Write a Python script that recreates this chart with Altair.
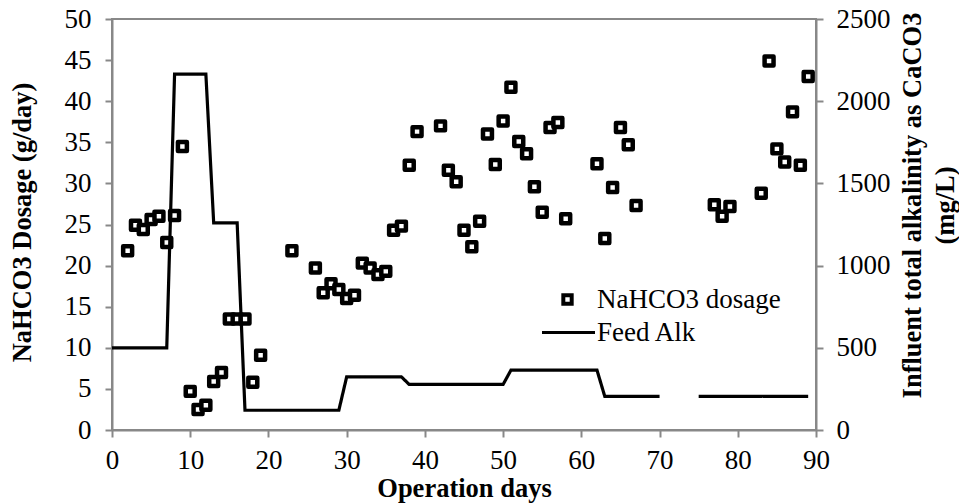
import altair as alt
import pandas as pd

# NaHCO3 dosage (g/day) by operation day
dose_days = [2, 3, 4, 5, 6, 7, 8, 9, 10, 11, 12, 13, 14, 15, 16, 17, 18, 19,
             23, 26, 27, 28, 29, 30, 31, 32, 33, 34, 35, 36, 37, 38, 39,
             42, 43, 44, 45, 46, 47, 48, 49, 50, 51, 52, 53, 54, 55, 56, 57, 58,
             62, 63, 64, 65, 66, 67, 77, 78, 79, 83, 84, 85, 86, 87, 88, 89]
dose_vals = [21.8, 24.9, 24.4, 25.6, 26.0, 22.8, 26.1, 34.5, 4.7, 2.5, 3.0, 5.9, 7.0, 13.5, 13.5, 13.5, 5.8, 9.1,
             21.8, 19.7, 16.7, 17.8, 17.1, 16.0, 16.4, 20.3, 19.7, 18.9, 19.3, 24.3, 24.8, 32.2, 36.3,
             37.0, 31.6, 30.2, 24.3, 22.3, 25.4, 36.0, 32.3, 37.6, 41.7, 35.1, 33.6, 29.6, 26.5, 36.8, 37.4, 25.7,
             32.4, 23.3, 29.5, 36.8, 34.7, 27.3, 27.4, 26.0, 27.2, 28.8, 44.9, 34.2, 32.6, 38.7, 32.2, 43.0]

# Feed alkalinity (mg/L as CaCO3)
alk_days = [0, 7, 8, 12, 13, 16, 17, 29, 30, 37, 38, 50, 51, 62, 63, 70, 75, 89]
alk_vals = [500, 500, 2165, 2165, 1260, 1260, 120, 120, 323, 323, 277, 277, 364, 364, 204, 204, 204, 204]
alk_segs = [1] * 16 + [2] * 2

dose_df = pd.DataFrame({"day": dose_days, "dose": dose_vals, "s": "NaHCO3 dosage"})
alk_df = pd.DataFrame({"day": alk_days, "alk": alk_vals, "seg": alk_segs, "l": "Feed Alk"})

FONT = "Liberation Serif"
GRAY = "#888888"
FS = 27
TFS = 26.5

x_enc = alt.X("day:Q", scale=alt.Scale(domain=[0, 90], nice=False),
              axis=alt.Axis(values=list(range(0, 91, 10)), title="Operation days",
                            titleFont=FONT, titleFontSize=TFS, titleFontWeight="bold",
                            titleColor="black", titlePadding=2, labelFlush=False,
                            labelFont=FONT, labelFontSize=FS, labelColor="black",
                            labelPadding=10, domainColor=GRAY, tickColor=GRAY,
                            tickSize=7, grid=False, domainWidth=2, tickWidth=2))

points = alt.Chart(dose_df).mark_point(
    filled=False, fill="white", strokeWidth=4.5, size=80, shape="square",
    strokeJoin="round", opacity=1
).encode(
    x=x_enc,
    y=alt.Y("dose:Q", scale=alt.Scale(domain=[0, 50], nice=False),
            axis=alt.Axis(values=list(range(0, 51, 5)), title="NaHCO3 Dosage (g/day)",
                          titleFont=FONT, titleFontSize=TFS, titleFontWeight="bold",
                          titleColor="black", titleX=-76, titleY=203, labelFlush=False,
                          labelFont=FONT, labelFontSize=FS, labelColor="black",
                          labelPadding=14, domainColor=GRAY, tickColor=GRAY,
                          tickSize=7, grid=False, domainWidth=2, tickWidth=2)),
    color=alt.Color("s:N", scale=alt.Scale(domain=["NaHCO3 dosage"], range=["black"]),
                    legend=alt.Legend(orient="none", legendX=442, legendY=267, title=None,
                                      padding=0, labelFont=FONT, labelFontSize=FS,
                                      labelColor="black", labelOffset=16, labelLimit=400,
                                      symbolType="square", symbolOpacity=1,
                                      symbolStrokeColor="black", symbolFillColor="white",
                                      symbolStrokeWidth=4, symbolSize=70)),
)

line = alt.Chart(alk_df).mark_line(color="black", strokeWidth=3.2, strokeJoin="miter").encode(
    x=alt.X("day:Q"),
    y=alt.Y("alk:Q", scale=alt.Scale(domain=[0, 2500], nice=False),
            axis=alt.Axis(values=list(range(0, 2501, 500)), orient="right", format="d",
                          title=["Influent total alkalinity as CaCO3", "(mg/L)"],
                          titleFont=FONT, titleFontSize=TFS, titleFontWeight="bold",
                          titleColor="black", titleAngle=270, titleX=110, titleY=186,
                          titleAlign="center", titleLineHeight=33, labelFlush=False,
                          labelFont=FONT, labelFontSize=FS, labelColor="black",
                          labelPadding=13, domainColor=GRAY, tickColor=GRAY,
                          tickSize=7, grid=False, domainWidth=2, tickWidth=2)),
    detail="seg:N",
    strokeDash=alt.StrokeDash("l:N", scale=alt.Scale(domain=["Feed Alk"], range=[[1, 0]]),
                              legend=alt.Legend(orient="none", legendX=428, legendY=285, title=None,
                                                padding=0, labelFont=FONT, labelFontSize=FS,
                                                labelColor="black", labelOffset=0, labelLimit=400,
                                                symbolType="stroke", symbolStrokeColor="black",
                                                symbolStrokeWidth=3.2, symbolSize=2809)),
    order="day:Q",
)

chart = alt.layer(points, line).resolve_scale(
    y="independent", color="independent", strokeDash="independent"
).properties(
    width=704, height=411,
    autosize=alt.AutoSizeParams(type="none"),
    padding={"left": 112, "top": 19, "right": 143, "bottom": 74},
).configure(
    background="white", font=FONT
).configure_view(
    stroke=GRAY, strokeWidth=2
)

chart.save("out.html", embed_options={"renderer": "svg", "actions": False})
